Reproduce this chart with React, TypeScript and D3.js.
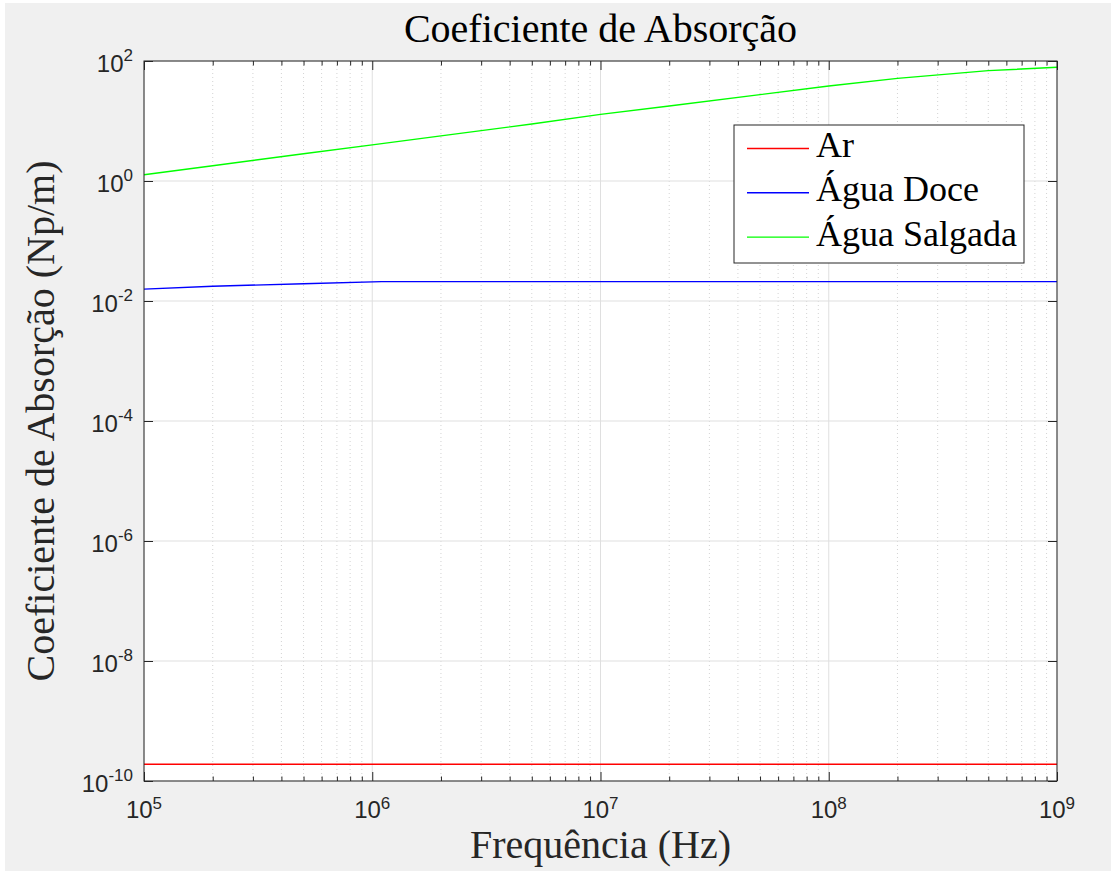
import { useEffect, useRef } from "react";
import * as d3 from "d3";

// frequencias (Hz) e coeficientes de absorcao (Np/m)
const arFreq = [1e5, 1e9];
const arAlpha = [1.9e-10, 1.9e-10];

const doceFreq = [1e5, 2e5, 5e5, 1.1e6, 1e7, 1e8, 1e9];
const doceAlpha = [0.0158, 0.0176, 0.0194, 0.021, 0.021, 0.021, 0.021];

const salgadaFreq = [1e5, 2e5, 5e5, 1e6, 2e6, 5e6, 1e7, 2e7, 5e7, 1e8, 2e8, 5e8, 1e9];
const salgadaAlpha = [1.27, 1.8, 2.84, 4.0, 5.65, 8.9, 12.9, 17.8, 27.5, 38.3, 51.4, 69, 78.5];

const seriesNames = ["Ar", "Água Doce", "Água Salgada"];
const seriesColors = ["#ff0000", "#0000ff", "#00ff00"];

const xMajor = [1e5, 1e6, 1e7, 1e8, 1e9];
const yMajor = [1e-10, 1e-8, 1e-6, 1e-4, 1e-2, 1e0, 1e2];

const W = 1115;
const H = 871;
const serif = "'Liberation Serif', 'Times New Roman', serif";
const sans = "'Liberation Sans', Arial, sans-serif";

const App = () => {
  const svgRef = useRef<SVGSVGElement>(null);

  useEffect(() => {
    const svg = d3.select(svgRef.current);
    svg.selectAll("*").remove();

    const margin = { top: 61, right: 58, bottom: 90, left: 144 };
    const x = d3.scaleLog().domain([1e5, 1e9]).range([margin.left, W - margin.right]);
    const y = d3.scaleLog().domain([1e-10, 1e2]).range([H - margin.bottom, margin.top]);
    const [x0, x1] = x.range();
    const [y0, y1] = y.range();
    const axisColor = "#262626";

    svg.append("rect").attr("width", W).attr("height", H).attr("fill", "#ffffff");
    svg.append("rect").attr("x", 5).attr("y", 3).attr("width", 1106).attr("height", H - 3).attr("fill", "#f0f0f0");
    svg.append("rect").attr("x", x0).attr("y", y1).attr("width", x1 - x0).attr("height", y0 - y1).attr("fill", "#ffffff");

    const minor = x.ticks().filter((d) => !xMajor.includes(d));

    // grade
    const grid = svg.append("g");
    grid.selectAll("line.minor").data(minor).join("line")
      .attr("class", "minor")
      .attr("x1", (d) => x(d)).attr("x2", (d) => x(d))
      .attr("y1", y1).attr("y2", y0)
      .attr("stroke", "#c8c8c8").attr("stroke-width", 0.8).attr("stroke-dasharray", "1,3");
    grid.selectAll("line.vmaj").data(xMajor).join("line")
      .attr("class", "vmaj")
      .attr("x1", (d) => x(d)).attr("x2", (d) => x(d))
      .attr("y1", y1).attr("y2", y0)
      .attr("stroke", "#dfdfdf").attr("stroke-width", 1);
    grid.selectAll("line.hmaj").data(yMajor).join("line")
      .attr("class", "hmaj")
      .attr("x1", x0).attr("x2", x1)
      .attr("y1", (d) => y(d)).attr("y2", (d) => y(d))
      .attr("stroke", "#dfdfdf").attr("stroke-width", 1);

    // series
    const line = d3.line<[number, number]>().x((d) => x(d[0])).y((d) => y(d[1]));
    const data: [number, number][][] = [
      arFreq.map((f, i) => [f, arAlpha[i]]),
      doceFreq.map((f, i) => [f, doceAlpha[i]]),
      salgadaFreq.map((f, i) => [f, salgadaAlpha[i]]),
    ];
    svg.append("g").selectAll("path").data(data).join("path")
      .attr("d", (d) => line(d))
      .attr("fill", "none")
      .attr("stroke", (d, i) => seriesColors[i])
      .attr("stroke-width", 1.4);

    // eixos com ticks para dentro
    const styleAxis = (g) => {
      g.select(".domain").remove();
      g.selectAll(".tick line").attr("stroke", axisColor);
      g.selectAll(".tick text").remove();
    };
    const major = 9;
    const small = 4.5;
    svg.append("g").attr("transform", `translate(0,${y0})`)
      .call(d3.axisBottom(x).tickValues(xMajor).tickSize(-major)).call(styleAxis);
    svg.append("g").attr("transform", `translate(0,${y0})`)
      .call(d3.axisBottom(x).tickValues(minor).tickSize(-small)).call(styleAxis);
    svg.append("g").attr("transform", `translate(0,${y1})`)
      .call(d3.axisTop(x).tickValues(xMajor).tickSize(-major)).call(styleAxis);
    svg.append("g").attr("transform", `translate(0,${y1})`)
      .call(d3.axisTop(x).tickValues(minor).tickSize(-small)).call(styleAxis);
    svg.append("g").attr("transform", `translate(${x0},0)`)
      .call(d3.axisLeft(y).tickValues(yMajor).tickSize(-major)).call(styleAxis);
    svg.append("g").attr("transform", `translate(${x1},0)`)
      .call(d3.axisRight(y).tickValues(yMajor).tickSize(-major)).call(styleAxis);

    svg.append("rect").attr("x", x0).attr("y", y1).attr("width", x1 - x0).attr("height", y0 - y1)
      .attr("fill", "none").attr("stroke", axisColor).attr("stroke-width", 1);

    // rotulos dos ticks: 10^n
    const xl = svg.append("g").attr("font-family", sans).attr("fill", "#262626");
    xMajor.forEach((v) => {
      const t = xl.append("text").attr("x", x(v)).attr("y", y0 + 37).attr("text-anchor", "middle").attr("font-size", 24);
      t.append("tspan").text("10");
      t.append("tspan").attr("dy", -9).attr("font-size", 17).text(Math.round(Math.log10(v)));
    });
    yMajor.forEach((v) => {
      const t = xl.append("text").attr("x", x0 - 11).attr("y", y(v) + 11).attr("text-anchor", "end").attr("font-size", 24);
      t.append("tspan").text("10");
      t.append("tspan").attr("dy", -11).attr("font-size", 17).text(Math.round(Math.log10(v)));
    });

    // titulos
    svg.append("text").attr("x", (x0 + x1) / 2).attr("y", 42).attr("text-anchor", "middle")
      .attr("font-family", serif).attr("font-size", 40).attr("fill", "#000")
      .text("Coeficiente de Absorção");
    svg.append("text").attr("x", (x0 + x1) / 2).attr("y", 858).attr("text-anchor", "middle")
      .attr("font-family", serif).attr("font-size", 40).attr("fill", "#262626")
      .text("Frequência (Hz)");
    svg.append("text").attr("transform", `translate(54,${(y0 + y1) / 2}) rotate(-90)`).attr("text-anchor", "middle")
      .attr("font-family", serif).attr("font-size", 40).attr("fill", "#262626")
      .text("Coeficiente de Absorção (Np/m)");

    // legenda
    const leg = svg.append("g").attr("transform", "translate(734,125)");
    leg.append("rect").attr("width", 290).attr("height", 138).attr("fill", "#ffffff")
      .attr("stroke", axisColor).attr("stroke-width", 1);
    seriesNames.forEach((name, i) => {
      const cy = 23.5 + i * 44.3;
      leg.append("line").attr("x1", 13).attr("x2", 75).attr("y1", cy).attr("y2", cy)
        .attr("stroke", seriesColors[i]).attr("stroke-width", 1.4);
      leg.append("text").attr("x", 82).attr("y", cy + 8.5).attr("font-family", serif)
        .attr("font-size", 36).attr("fill", "#000").text(name);
    });
  }, []);

  return (
    <svg ref={svgRef} width={W} height={H} style={{ position: "absolute", left: 0, top: 0 }} />
  );
};

export default App;
